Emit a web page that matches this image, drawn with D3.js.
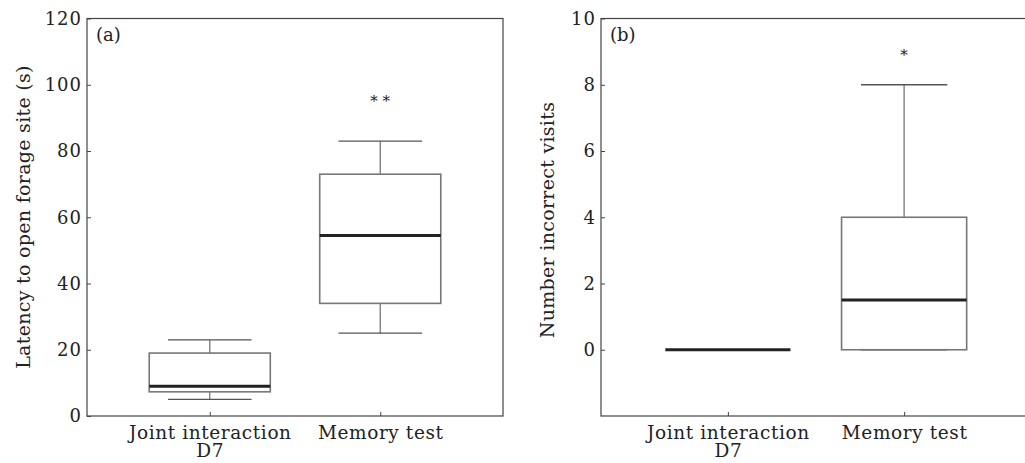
<!DOCTYPE html>
<html>
<head>
<meta charset="utf-8">
<script src="https://cdn.jsdelivr.net/npm/d3@7"></script>
<style>
  body { margin: 0; background: #fff; }
  svg text { font-family: "DejaVu Serif", serif; fill: #222; }
</style>
</head>
<body>
<svg id="chart" width="1025" height="463"></svg>
<script>
// groups on the x axis (each label split on two lines)
const categories = [["Joint interaction", "D7"], ["Memory test"]];

// box stats: [lower whisker, Q1, median, Q3, upper whisker]
const latencyStats = [[5, 7.3, 9, 19, 23], [25, 34, 54.5, 73, 83]];
const visitsStats = [[0, 0, 0, 0, 0], [0, 0, 1.5, 4, 8]];

// significance marks above the memory test box
const latencyMarks = [{ group: 1, value: 96, text: "* *" }];
const visitsMarks = [{ group: 1, value: 9, text: "*" }];

const latencyTicks = [0, 20, 40, 60, 80, 100, 120];
const visitsTicks = [0, 2, 4, 6, 8, 10];

const svg = d3.select("#chart");

function drawPanel(opt) {
  const g = svg.append("g");
  const keys = categories.map((c, i) => i);

  const x = d3.scalePoint().domain(keys).range([opt.left, opt.right]).padding(0.72);
  const y = d3.scaleLinear().domain(opt.domain).range([416, 18.5]);
  const step = x.step();
  const boxW = step * 0.71, capW = step * 0.49;

  // frame
  g.append("rect")
    .attr("x", opt.left).attr("y", y.range()[1])
    .attr("width", opt.right - opt.left).attr("height", y.range()[0] - y.range()[1])
    .attr("fill", "none").attr("stroke", "#444").attr("stroke-width", 1.2);

  // y axis, ticks pointing in
  const ya = g.append("g").attr("transform", `translate(${opt.left},0)`)
    .call(d3.axisLeft(y).tickValues(opt.ticks).tickSizeInner(-4).tickSizeOuter(0).tickPadding(5));
  ya.select(".domain").remove();
  ya.selectAll("line").attr("stroke", "#444");
  ya.selectAll("text").attr("font-size", 18).attr("letter-spacing", 1).attr("fill", "#222")
    .attr("font-family", "DejaVu Serif");

  // x axis ticks + two-line labels
  const xa = g.append("g").attr("transform", `translate(0,${y.range()[0]})`)
    .call(d3.axisBottom(x).tickSizeInner(-4).tickSizeOuter(0).tickFormat(""));
  xa.select(".domain").remove();
  xa.selectAll("line").attr("stroke", "#444");
  xa.selectAll(".tick").each(function(d) {
    const t = d3.select(this).append("text")
      .attr("text-anchor", "middle").attr("font-size", 18.5).attr("letter-spacing", 0.6)
      .attr("fill", "#222").attr("font-family", "DejaVu Serif");
    categories[d].forEach((line, i) => {
      t.append("tspan").attr("x", 0).attr("y", 23 + i * 18).text(line);
    });
  });

  // boxes
  const boxes = g.selectAll(".box").data(opt.stats).join("g").attr("class", "box")
    .attr("transform", (d, i) => `translate(${x(i)},0)`);

  boxes.append("line")
    .attr("y1", d => y(d[4])).attr("y2", d => y(d[3]))
    .attr("stroke", "#777").attr("stroke-width", 1.3);
  boxes.append("line")
    .attr("y1", d => y(d[1])).attr("y2", d => y(d[0]))
    .attr("stroke", "#777").attr("stroke-width", 1.3);
  boxes.append("line")
    .attr("x1", -capW / 2).attr("x2", capW / 2)
    .attr("y1", d => y(d[4])).attr("y2", d => y(d[4]))
    .attr("stroke", "#555").attr("stroke-width", 1.3);
  boxes.append("line")
    .attr("x1", -capW / 2).attr("x2", capW / 2)
    .attr("y1", d => y(d[0])).attr("y2", d => y(d[0]))
    .attr("stroke", "#555").attr("stroke-width", 1.3);
  boxes.append("rect")
    .attr("x", -boxW / 2).attr("width", boxW)
    .attr("y", d => y(d[3])).attr("height", d => y(d[1]) - y(d[3]))
    .attr("fill", "none").attr("stroke", "#777").attr("stroke-width", 1.6);
  boxes.append("line")
    .attr("x1", -boxW / 2).attr("x2", boxW / 2)
    .attr("y1", d => y(d[2])).attr("y2", d => y(d[2]))
    .attr("stroke", "#222").attr("stroke-width", 3);

  // significance stars
  g.selectAll(".mark").data(opt.marks).join("text")
    .attr("x", d => x(d.group)).attr("y", d => y(d.value) + 8)
    .attr("text-anchor", "middle").attr("font-size", 15).attr("fill", "#111")
    .attr("font-family", "DejaVu Sans")
    .text(d => d.text);

  // panel letter
  g.append("text").attr("x", opt.left + 9).attr("y", 41)
    .attr("font-size", 18).text(opt.letter);

  // y label
  g.append("text")
    .attr("transform", `translate(${opt.labelX},${opt.labelY}) rotate(-90)`)
    .attr("text-anchor", "middle").attr("font-size", 19).attr("letter-spacing", 0.3)
    .text(opt.label);
}

drawPanel({
  left: 87, right: 503, domain: [0, 120], ticks: latencyTicks,
  stats: latencyStats, marks: latencyMarks, letter: "(a)",
  label: "Latency to open forage site (s)", labelX: 30, labelY: 217
});

drawPanel({
  left: 601, right: 1031, domain: [-2, 10], ticks: visitsTicks,
  stats: visitsStats, marks: visitsMarks, letter: "(b)",
  label: "Number incorrect visits", labelX: 554, labelY: 220
});
</script>
</body>
</html>
